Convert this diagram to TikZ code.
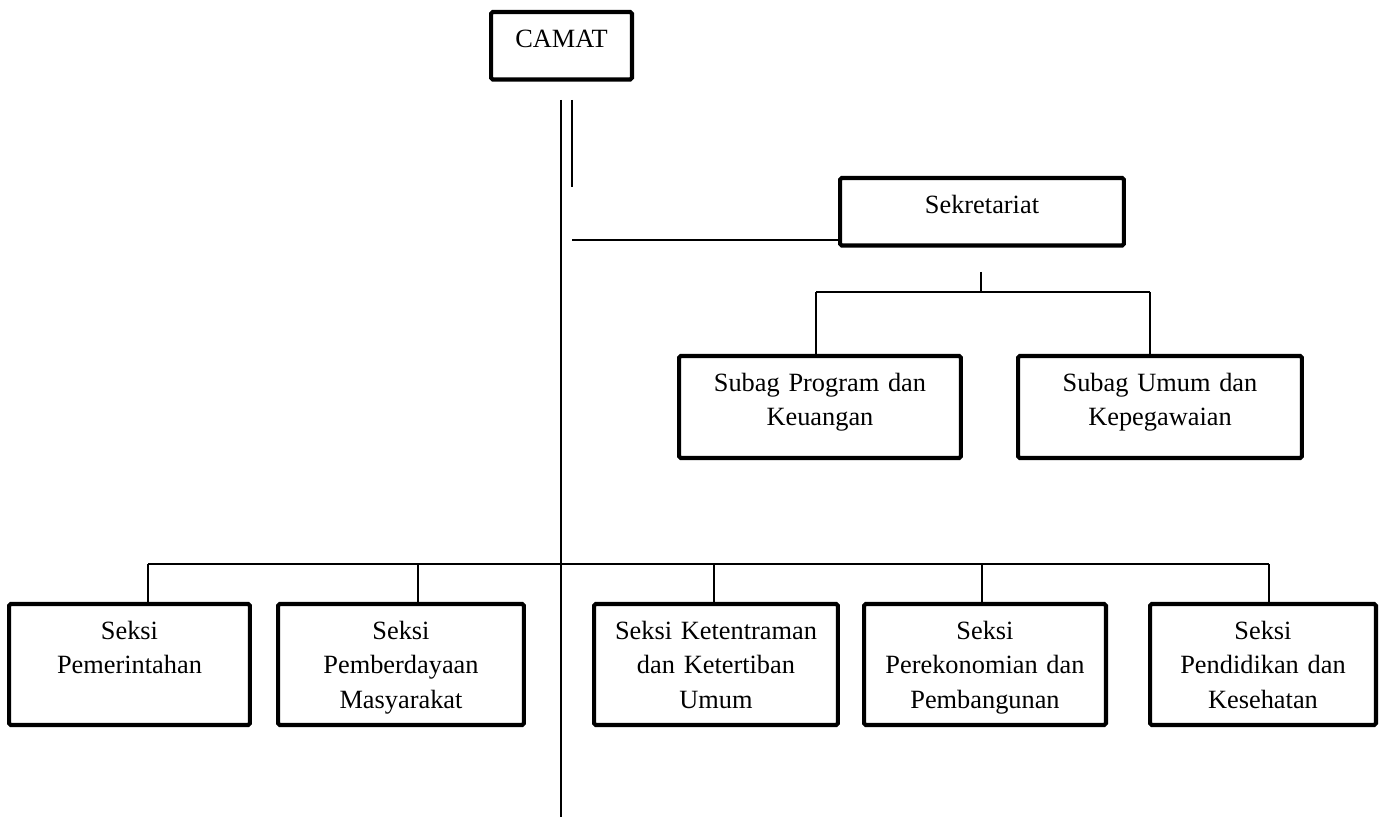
\documentclass[tikz,border=0pt]{standalone}
\usepackage{fontspec}
\setmainfont{Liberation Serif}
\tikzset{
  unitbox/.style={rectangle,draw=black,line width=2.3pt,rounded corners=1pt,anchor=north west,
    inner xsep=0pt,inner ysep=0pt,align=center,text height=0.70cm,
    font=\fontsize{15}{19.9}\selectfont},
  headbox/.style={unitbox,text depth=0.65cm},
  subbox/.style={unitbox,text depth=1.34cm},
  seksibox/.style={unitbox,text depth=1.72cm},
  link/.style={line width=1.1pt}
}

\begin{document}
\begin{tikzpicture}[x=0.02cm,y=-0.02cm]
  \useasboundingbox (0,0) rectangle (1384,817);
  \node[headbox, text width=2.82cm] (camat) at (489,10) {CAMAT};
  \node[headbox, text width=5.68cm] (sek) at (838,176) {Sekretariat};
  \node[subbox, text width=5.64cm] (prog) at (677,354) {Subag Program dan\\Keuangan};
  \node[subbox, text width=5.68cm] (umum) at (1016,354) {Subag Umum dan\\Kepegawaian};
  \node[seksibox, text width=4.82cm] (pem) at (7,602) {Seksi\\Pemerintahan};
  \node[seksibox, text width=4.92cm] (pmb) at (276,602) {Seksi\\Pemberdayaan\\Masyarakat};
  \node[seksibox, text width=4.88cm] (tib) at (592,602) {Seksi Ketentraman\\dan Ketertiban\\Umum};
  \node[seksibox, text width=4.84cm] (eko) at (862,602) {Seksi\\Perekonomian dan\\Pembangunan};
  \node[seksibox, text width=4.52cm] (dik) at (1148,602) {Seksi\\Pendidikan dan\\Kesehatan};

  \coordinate (trunktop) at (561,100);
  \coordinate (trunkend) at (561,817);
  \coordinate (sidetop) at (572,100);
  \coordinate (sideend) at (572,187);
  \coordinate (sekjoin) at (572,240);
  \coordinate (subdrop) at (981,272);
  \coordinate (subbus) at (981,292);
  \coordinate (progtap) at (816,292);
  \coordinate (umumtap) at (1150,292);
  \coordinate (pemtap) at (148,564);
  \coordinate (pmbtap) at (418,564);
  \coordinate (tibtap) at (714,564);
  \coordinate (ekotap) at (982,564);
  \coordinate (diktap) at (1269,564);

  \draw[link] (trunktop) -- (trunkend);
  \draw[link] (sidetop) -- (sideend);
  \draw[link] (sekjoin) -- (sekjoin -| sek.west);
  \draw[link] (subdrop) -- (subbus);
  \draw[link] (progtap) -- (umumtap);
  \draw[link] (progtap) -- (progtap |- prog.north);
  \draw[link] (umumtap) -- (umumtap |- umum.north);
  \draw[link] (pemtap) -- (diktap);
  \draw[link] (pemtap) -- (pemtap |- pem.north);
  \draw[link] (pmbtap) -- (pmbtap |- pmb.north);
  \draw[link] (tibtap) -- (tibtap |- tib.north);
  \draw[link] (ekotap) -- (ekotap |- eko.north);
  \draw[link] (diktap) -- (diktap |- dik.north);
\end{tikzpicture}
\end{document}
